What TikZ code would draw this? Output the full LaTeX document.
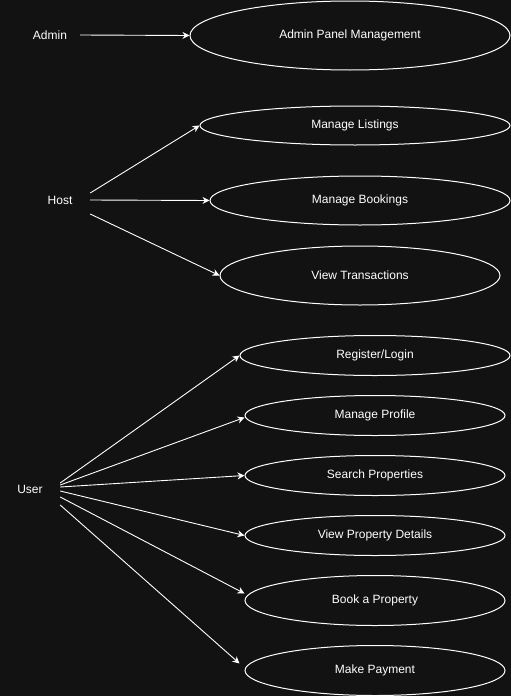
\documentclass[tikz,border=0pt]{standalone}
\usepackage{fontspec}
\setmainfont{Liberation Sans}
\usetikzlibrary{arrows.meta, positioning, shapes.geometric}
\definecolor{canvas}{HTML}{121212}

\begin{document}
\begin{tikzpicture}[
    x=1pt, y=-1pt,
    font=\fontsize{12}{14}\selectfont,
    actor/.style={text=white, minimum width=60pt, inner sep=0pt},
    usecase/.style={ellipse, draw=white, line width=1pt, text=white, inner sep=0pt},
    assoc/.style={-{Stealth[length=7pt, width=7pt]}, draw=white, line width=0.9pt}
]

% Canvas
\fill[canvas] (0,0) rectangle (511,696);
\useasboundingbox (0,0) rectangle (511,696);

% Actors
\node[actor] (admin) at (50,35) {Admin};
\node[actor] (host) at (60,200) {Host};
\node[actor] (user) at (30,489) {User};

% Admin use case
\node[usecase, minimum width=320pt, minimum height=69pt] (panel) at (350,35.5) {Admin Panel Management};
\draw[assoc] (admin.east) -- (panel.west);

% Host use cases
\node[usecase, minimum width=310pt, minimum height=39pt] (listings) at (355,125.5) {Manage Listings};
\node[usecase, minimum width=300pt, minimum height=49pt] (bookings) at (360,200.5) {Manage Bookings};
\node[usecase, minimum width=280pt, minimum height=59pt] (transactions) at (360,275.5) {View Transactions};

\draw[assoc] ([yshift=7pt]host.east) -- (listings.west);
\draw[assoc] (host.east) -- (bookings.west);
\draw[assoc] ([yshift=-14pt]host.east) -- (transactions.west);

% User use cases
\foreach \uc/\yy/\ww/\hh/\txt in {register/355.5/270/40/{Register/Login}, profile/415.5/260/40/{Manage Profile}, search/475.5/260/40/{Search Properties}, details/535.5/260/40/{View Property Details}, book/600.5/260/50/{Book a Property}, payment/670.5/260/50/{Make Payment}} {
    \node[usecase, minimum width=\ww pt, minimum height=\hh pt] (\uc) at (375,\yy) {\txt};
}

\draw[assoc] ([yshift=6pt]user.east) -- (register.west);
\draw[assoc] ([yshift=4pt]user.east) -- ([yshift=-2pt]profile.west);
\draw[assoc] ([yshift=2pt]user.east) -- (search.west);
\draw[assoc] ([yshift=-2pt]user.east) -- (details.west);
\draw[assoc] ([yshift=-8pt]user.east) -- ([yshift=7pt]book.west);
\draw[assoc] ([yshift=-16pt]user.east) -- ([xshift=-5pt, yshift=7pt]payment.west);

\end{tikzpicture}
\end{document}
